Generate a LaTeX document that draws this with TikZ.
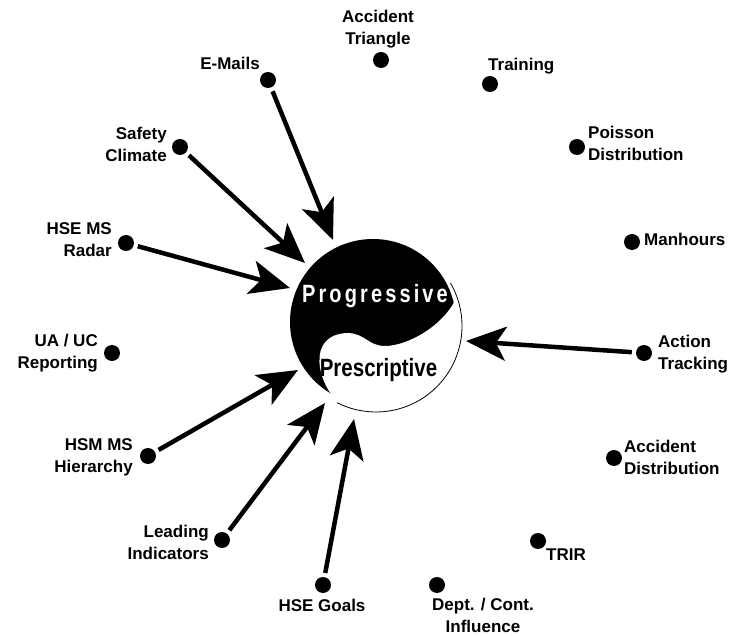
\documentclass[tikz,border=0pt]{standalone}
\usepackage{fontspec}
\setmainfont{Liberation Sans}
\newfontfamily\progfont[FakeStretch=0.8,LetterSpace=12.5]{Liberation Sans Bold}
\newfontfamily\prescfont[FakeStretch=0.82]{Liberation Sans Bold}
\usetikzlibrary{arrows.meta,calc}

\begin{document}
\begin{tikzpicture}[x=1pt, y=-1pt,
  dot/.style={circle, fill=black, inner sep=0pt, minimum size=16pt},
  lbl/.style={font=\fontsize{17}{22}\selectfont\bfseries, inner sep=0pt},
  feed/.style={line width=4.5pt, shorten <=4pt,
    -{Stealth[length=40pt,width=34pt,inset=10pt]}},
]
\useasboundingbox (0,0) rectangle (732,636);

% yin-yang core
\coordinate (bc) at (373,322);
\coordinate (wc) at (376,326);
\fill[black] (bc) circle[radius=83pt];
\fill[white]
  ($(wc)+(20:86pt)$) arc[start angle=20, end angle=-115, radius=86pt]
  .. controls (318,385) and (305,335) .. (347,333)
  .. controls (365,333) and (368,346) .. (385,346)
  .. controls (408,346) and (445,325) .. cycle;
\draw[line width=0.8pt] ($(wc)+(30:86pt)$) arc[start angle=30, end angle=-117, radius=86pt];
\node[font=\progfont\fontsize{25}{28}\selectfont, text=white, inner sep=0pt, anchor=base]
  (prog) at (375,303) {Progressive};
\node[font=\prescfont\fontsize{25}{28}\selectfont, inner sep=0pt, anchor=base]
  (presc) at (378.5,377) {Prescriptive};

% measures around the core
\node[dot] (d-tri) at (381,60) {};
\node[lbl, align=center] (l-tri) at (378,29) {Accident\\Triangle};
\node[dot] (d-mail) at (268,80) {};
\node[lbl, anchor=base east] (l-mail) at (260,70) {E-Mails};
\node[dot] (d-train) at (490,84) {};
\node[lbl, anchor=base west] (l-train) at (488,71) {Training};
\node[dot] (d-safe) at (180,147) {};
\node[lbl, align=right, anchor=east] (l-safe) at (167,144) {Safety\\Climate};
\node[dot] (d-pois) at (577,147) {};
\node[lbl, align=left, anchor=west] (l-pois) at (588,143.5) {Poisson\\Distribution};
\node[dot] (d-radar) at (126,243) {};
\node[lbl, align=right, anchor=east] (l-radar) at (112,240) {HSE MS\\Radar};
\node[dot] (d-man) at (632,242) {};
\node[lbl, anchor=base west] (l-man) at (644,246) {Manhours};
\node[dot] (d-ua) at (112,353) {};
\node[lbl, align=right, anchor=east] (l-ua) at (98,353) {UA / UC\\Reporting};
\node[dot] (d-act) at (644,353) {};
\node[lbl, align=left, anchor=west] (l-act) at (658,354) {Action\\Tracking};
\node[dot] (d-hier) at (148,456) {};
\node[lbl, align=right, anchor=east] (l-hier) at (133,457) {HSM MS\\Hierarchy};
\node[dot] (d-adist) at (614,458) {};
\node[lbl, align=left, anchor=west] (l-adist) at (624,457) {Accident\\Distribution};
\node[dot] (d-lead) at (222,540) {};
\node[lbl, align=right, anchor=east] (l-lead) at (209,542) {Leading\\Indicators};
\node[dot] (d-trir) at (538,541) {};
\node[lbl, anchor=base west] (l-trir) at (546,561) {TRIR};
\node[dot] (d-goal) at (323,585) {};
\node[lbl, anchor=base] (l-goal) at (322,612) {HSE Goals};
\node[dot] (d-dept) at (437,585) {};
\node[lbl, align=center] (l-dept) at (483,615) {Dept. / Cont.\\Influence};

% arrow tips near the core
\coordinate (t-mail) at (333,240);
\coordinate (t-safe) at (305,263);
\coordinate (t-radar) at (290,288);
\coordinate (t-act) at (466,341);
\coordinate (t-hier) at (298,370);
\coordinate (t-lead) at (325,403);
\coordinate (t-goal) at (354,419);

\draw[feed] (d-mail) -- (t-mail);
\draw[feed] (d-safe) -- (t-safe);
\draw[feed] (d-radar) -- (t-radar);
\draw[feed] (d-act) -- (t-act);
\draw[feed] (d-hier) -- (t-hier);
\draw[feed] (d-lead) -- (t-lead);
\draw[feed] (d-goal) -- (t-goal);
\end{tikzpicture}
\end{document}
